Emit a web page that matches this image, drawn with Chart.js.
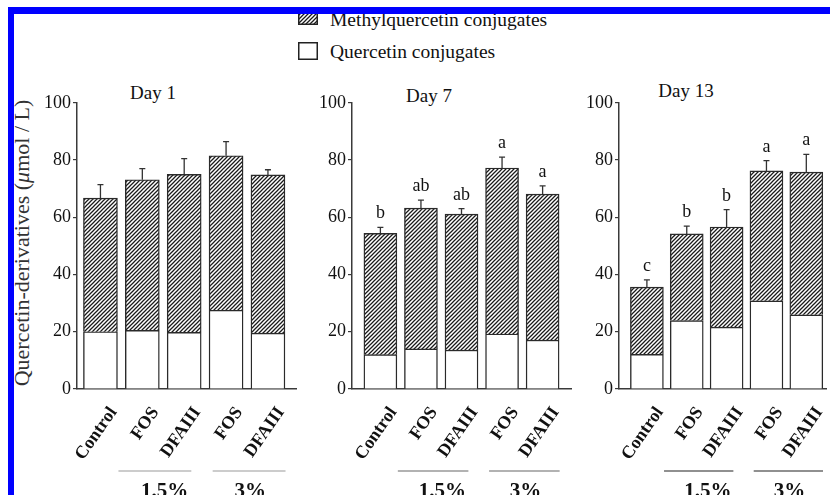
<!DOCTYPE html>
<html><head><meta charset="utf-8">
<script src="https://cdn.jsdelivr.net/npm/chart.js@4.4.1/dist/chart.umd.min.js"></script>
<style>
html,body{margin:0;padding:0;background:#fff;}
body{width:830px;height:495px;position:relative;overflow:hidden;font-family:"Liberation Serif","Times New Roman",serif;color:#111;}
#blueTop{position:absolute;left:8px;top:7px;width:822px;height:7px;background:#0000ff;z-index:5;}
#blueLeft{position:absolute;left:8px;top:7px;width:6px;height:488px;background:#0000ff;z-index:5;}
.leg{position:absolute;left:330px;font-size:19.5px;white-space:nowrap;line-height:19px;}
.ttl{position:absolute;font-size:19px;line-height:19px;white-space:nowrap;transform:translateX(-50%);}
#ytitle{position:absolute;left:21.6px;top:243px;transform:translate(-50%,-50%) rotate(-90deg);font-size:22px;line-height:22px;white-space:nowrap;color:#333;}
canvas{position:absolute;}
</style></head>
<body>
<div id="blueTop"></div><div id="blueLeft"></div>
<canvas id="legBox1" width="20" height="17" style="left:298px;top:8px;"></canvas>
<canvas id="legBox2" width="20" height="18" style="left:298px;top:42px;"></canvas>
<div class="leg" style="top:10px;">Methylquercetin conjugates</div>
<div class="leg" style="top:42px;">Quercetin conjugates</div>
<div id="ytitle">Quercetin-derivatives (<i>μ</i>mol / L)</div>
<div class="ttl" style="left:153px;top:83px;">Day 1</div>
<div class="ttl" style="left:429px;top:86px;">Day 7</div>
<div class="ttl" style="left:686px;top:81px;">Day 13</div>
<canvas id="c1" width="270" height="405" style="left:30px;top:90px;"></canvas>
<canvas id="c2" width="270" height="405" style="left:305px;top:90px;"></canvas>
<canvas id="c3" width="258" height="405" style="left:572px;top:90px;"></canvas>
<script>
// ---- data ----
const categories = ['Control', 'FOS', 'DFAIII', 'FOS', 'DFAIII'];
const groupLabels = ['1.5%', '3%'];
const yTicks = [0, 20, 40, 60, 80, 100];
const seriesNames = ['Quercetin conjugates', 'Methylquercetin conjugates'];

const day1Quercetin = [20.0, 20.5, 19.8, 27.5, 19.5];
const day1Methyl    = [46.7, 52.6, 55.2, 54.0, 55.3];
const day1SD        = [4.7, 3.9, 5.5, 4.9, 1.8];
const day1Letters   = ['', '', '', '', ''];

const day7Quercetin = [12.0, 14.0, 13.6, 19.2, 17.1];
const day7Methyl    = [42.4, 49.2, 47.5, 58.0, 51.0];
const day7SD        = [2.1, 2.8, 1.9, 3.8, 2.9];
const day7Letters   = ['b', 'ab', 'ab', 'a', 'a'];

const day13Quercetin = [12.1, 23.9, 21.6, 30.8, 25.9];
const day13Methyl    = [23.5, 30.3, 35.0, 45.4, 49.9];
const day13SD        = [2.5, 2.7, 6.1, 3.6, 6.2];
const day13Letters   = ['c', 'b', 'b', 'a', 'a'];

// ---- drawing ----
function makeHatch() {
  const c = document.createElement('canvas'); c.width = 4; c.height = 4;
  const g = c.getContext('2d');
  g.fillStyle = '#fff'; g.fillRect(0, 0, 4, 4);
  g.strokeStyle = '#1a1a1a'; g.lineWidth = 1.25;
  g.beginPath();
  g.moveTo(-1, 5); g.lineTo(5, -1);
  g.moveTo(-1, 1); g.lineTo(1, -1);
  g.moveTo(3, 5); g.lineTo(5, 3);
  g.stroke();
  return g.createPattern(c, 'repeat');
}
const SERIF = '"Liberation Serif", "Times New Roman", serif';

[['legBox1', true], ['legBox2', false]].forEach(([id, hatched]) => {
  const c = document.getElementById(id), g = c.getContext('2d');
  g.fillStyle = hatched ? makeHatch() : '#fff';
  g.fillRect(0, 0, c.width, c.height);
  g.strokeStyle = '#222'; g.lineWidth = 1.5;
  g.strokeRect(0.75, 0.75, c.width - 1.5, c.height - 1.5);
});

const annotPlugin = {
  id: 'annot',
  afterDatasetsDraw(chart, args, o) {
    const ctx = chart.ctx, xs = chart.scales.x, ys = chart.scales.y;
    ctx.save();
    for (let i = 0; i < o.quercetin.length; i++) {
      const x = xs.getPixelForValue(i);
      const tot = o.quercetin[i] + o.methyl[i];
      const yTop = ys.getPixelForValue(tot), yErr = ys.getPixelForValue(tot + o.sd[i]);
      ctx.strokeStyle = '#333'; ctx.lineWidth = 1.3;
      ctx.beginPath();
      ctx.moveTo(x, yTop); ctx.lineTo(x, yErr);
      ctx.moveTo(x - 3, yErr); ctx.lineTo(x + 3, yErr);
      ctx.stroke();
      if (o.letters[i]) {
        ctx.fillStyle = '#111'; ctx.font = '18px ' + SERIF;
        ctx.textAlign = 'center'; ctx.textBaseline = 'alphabetic';
        ctx.fillText(o.letters[i], x, yErr - 9);
      }
    }
    const b = chart.chartArea.bottom;
    groupLabels.forEach((g, k) => {
      const s = o.groupSpans[k];
      ctx.strokeStyle = o.groupLineColor; ctx.lineWidth = 1.2;
      ctx.beginPath();
      ctx.moveTo(xs.getPixelForValue(s[0]), b + 82);
      ctx.lineTo(xs.getPixelForValue(s[1]), b + 82);
      ctx.stroke();
      ctx.fillStyle = '#111'; ctx.font = 'bold 21px ' + SERIF;
      ctx.textAlign = 'center'; ctx.textBaseline = 'alphabetic';
      ctx.fillText(g, xs.getPixelForValue(o.groupTextPos[k]), b + 108);
    });
    ctx.restore();
  }
};

function makePanel(id, quercetin, methyl, sd, letters, xMin, xMax, barW, padRight, lineColor) {
  const hatch = makeHatch();
  return new Chart(document.getElementById(id), {
    type: 'bar',
    data: {
      datasets: [
        { label: seriesNames[0], data: quercetin.map((v, i) => ({ x: i, y: v })),
          backgroundColor: '#fff', borderColor: '#2a2a2a', borderWidth: 1.4, barThickness: barW },
        { label: seriesNames[1], data: methyl.map((v, i) => ({ x: i, y: v })),
          backgroundColor: hatch, borderColor: '#2a2a2a', borderWidth: 1.4, barThickness: barW }
      ]
    },
    plugins: [annotPlugin],
    options: {
      responsive: false, animation: false, devicePixelRatio: 1,
      layout: { padding: { top: 12, right: padRight, left: 0, bottom: 0 } },
      plugins: {
        legend: { display: false }, tooltip: { enabled: false }, title: { display: false },
        annot: { quercetin, methyl, sd, letters, groupLineColor: lineColor,
          groupSpans: [[0.43, 2.17], [2.68, 4.42]], groupTextPos: [1.53, 3.58] }
      },
      scales: {
        x: {
          type: 'linear', stacked: true, min: xMin, max: xMax, offset: false,
          afterBuildTicks: s => { s.ticks = categories.map((c, i) => ({ value: i })); },
          afterFit: s => { s.height = 106; },
          grid: { display: false },
          border: { display: true, color: '#3a3a3a', width: 1.5 },
          ticks: {
            autoSkip: false, minRotation: 55, maxRotation: 55, padding: 6, labelOffset: 13,
            color: '#111', font: { family: SERIF, size: 18, weight: 'bold' },
            callback: v => categories[v]
          }
        },
        y: {
          stacked: true, min: 0, max: 100,
          afterBuildTicks: s => { s.ticks = yTicks.map(v => ({ value: v })); },
          afterFit: s => { s.width = 47; },
          grid: { display: true, drawOnChartArea: false, drawTicks: true, tickLength: 4, color: '#3a3a3a', lineWidth: 1.2 },
          border: { display: true, color: '#3a3a3a', width: 1.5 },
          ticks: { padding: 2, color: '#111', font: { family: SERIF, size: 18 } }
        }
      }
    }
  });
}

makePanel('c1', day1Quercetin, day1Methyl, day1SD, day1Letters, -0.56, 4.67, 34, 4, '#999');
makePanel('c2', day7Quercetin, day7Methyl, day7SD, day7Letters, -0.70, 4.70, 33, 4, '#666');
makePanel('c3', day13Quercetin, day13Methyl, day13SD, day13Letters, -0.70, 4.50, 33, 0, '#222');
</script>
</body></html>
